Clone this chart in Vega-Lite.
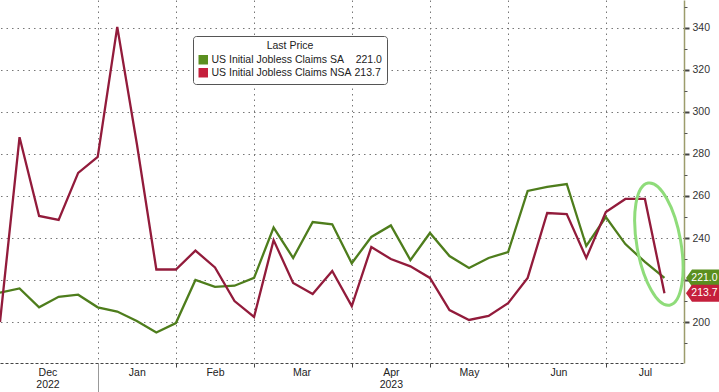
{
  "$schema": "https://vega.github.io/schema/vega-lite/v6.json",
  "width": 684,
  "height": 363,
  "autosize": {"type": "none"},
  "padding": {"left": 0, "top": 0, "right": 35, "bottom": 29},
  "background": "white",
  "config": {"view": {"stroke": null}, "font": "Liberation Sans"},
  "datasets": {
    "claims": [
      {"date": "2022-12-01", "SA": 214, "NSA": 200},
      {"date": "2022-12-08", "SA": 216, "NSA": 288},
      {"date": "2022-12-15", "SA": 207, "NSA": 250.5},
      {"date": "2022-12-22", "SA": 212, "NSA": 248.6},
      {"date": "2022-12-29", "SA": 213, "NSA": 271},
      {"date": "2023-01-05", "SA": 207, "NSA": 278.6},
      {"date": "2023-01-12", "SA": 205, "NSA": 340.5},
      {"date": "2023-01-19", "SA": 200.5, "NSA": 285},
      {"date": "2023-01-26", "SA": 195, "NSA": 225},
      {"date": "2023-02-02", "SA": 199.5, "NSA": 225},
      {"date": "2023-02-09", "SA": 220, "NSA": 234},
      {"date": "2023-02-16", "SA": 216.7, "NSA": 226},
      {"date": "2023-02-23", "SA": 217.3, "NSA": 210},
      {"date": "2023-03-02", "SA": 221, "NSA": 202.4},
      {"date": "2023-03-09", "SA": 245, "NSA": 239},
      {"date": "2023-03-16", "SA": 230.5, "NSA": 218.6},
      {"date": "2023-03-23", "SA": 247.6, "NSA": 213.3},
      {"date": "2023-03-30", "SA": 246.5, "NSA": 224.3},
      {"date": "2023-04-06", "SA": 228, "NSA": 207.6},
      {"date": "2023-04-13", "SA": 240.5, "NSA": 235.7},
      {"date": "2023-04-20", "SA": 246, "NSA": 230},
      {"date": "2023-04-27", "SA": 229.5, "NSA": 226.5},
      {"date": "2023-05-04", "SA": 242.4, "NSA": 221},
      {"date": "2023-05-11", "SA": 231.4, "NSA": 205.7},
      {"date": "2023-05-18", "SA": 225.7, "NSA": 201},
      {"date": "2023-05-25", "SA": 230.5, "NSA": 202.9},
      {"date": "2023-06-01", "SA": 233.3, "NSA": 209},
      {"date": "2023-06-08", "SA": 262.4, "NSA": 221},
      {"date": "2023-06-15", "SA": 264.3, "NSA": 251.9},
      {"date": "2023-06-22", "SA": 265.7, "NSA": 251.4},
      {"date": "2023-06-29", "SA": 236.2, "NSA": 230.5},
      {"date": "2023-07-06", "SA": 250, "NSA": 252.4},
      {"date": "2023-07-13", "SA": 237.1, "NSA": 258.6},
      {"date": "2023-07-20", "SA": 228.6, "NSA": 258.6},
      {"date": "2023-07-27", "SA": 221.0, "NSA": 213.7}
    ],
    "note": [{"date": "2023-07-25", "value": 237.1}]
  },
  "layer": [
    {
      "data": {"name": "claims"},
      "transform": [{"fold": ["SA", "NSA"], "as": ["series", "value"]}],
      "mark": {"type": "line", "strokeWidth": 2.3},
      "encoding": {
        "x": {
          "field": "date", "type": "temporal",
          "scale": {"type": "utc", "domain": [{"year": 2022, "month": 12, "date": 1, "utc": true}, {"year": 2023, "month": 8, "date": 3, "utc": true}]},
          "axis": {
            "orient": "bottom", "title": null, "labels": false,
            "values": [
              {"year": 2023, "month": 1, "date": 5, "utc": true},
              {"year": 2023, "month": 2, "date": 2, "utc": true},
              {"year": 2023, "month": 3, "date": 2, "utc": true},
              {"year": 2023, "month": 4, "date": 6, "utc": true},
              {"year": 2023, "month": 5, "date": 4, "utc": true},
              {"year": 2023, "month": 6, "date": 1, "utc": true},
              {"year": 2023, "month": 7, "date": 6, "utc": true}
            ],
            "grid": true, "gridColor": "#777", "gridDash": [1.5, 4], "gridWidth": 1,
            "ticks": true,
            "tickSize": {"condition": {"test": "utcmonth(datum.value) == 0", "value": 29}, "value": 4},
            "tickColor": {"condition": {"test": "utcmonth(datum.value) == 0", "value": "#999"}, "value": "#444"},
            "domain": true, "domainColor": "#444", "domainDash": [3, 2], "domainWidth": 1
          }
        },
        "y": {
          "field": "value", "type": "quantitative",
          "scale": {"domain": [180.5, 353.3], "nice": false, "zero": false},
          "axis": {
            "orient": "right", "title": null,
            "values": [200, 220, 240, 260, 280, 300, 320, 340],
            "labelExpr": "datum.value == 220 ? '' : datum.label",
            "grid": true, "gridColor": "#777", "gridDash": [1.5, 4], "gridWidth": 1,
            "domain": true, "domainColor": "#9c9c6c", "domainWidth": 1.5,
            "ticks": true, "tickColor": "#444", "tickSize": 5, "tickWidth": 2,
            "labelFontSize": 10.5, "labelColor": "#333", "labelPadding": 3
          }
        },
        "color": {
          "field": "series", "type": "nominal",
          "scale": {"domain": ["SA", "NSA"], "range": ["#4e7d1c", "#921b3b"]},
          "legend": null
        }
      }
    },
    {
      "data": {"name": "note"},
      "mark": {"type": "point", "shape": "M -1.077 -6.107 A 2.2 6.2 -10 0 1 1.077 6.107 A 2.2 6.2 -10 0 1 -1.077 -6.107 Z", "size": 400, "filled": false, "color": "#8fdc7a", "strokeWidth": 3, "opacity": 1},
      "encoding": {
        "x": {"field": "date", "type": "temporal", "scale": {"type": "utc", "domain": [{"year": 2022, "month": 12, "date": 1, "utc": true}, {"year": 2023, "month": 8, "date": 3, "utc": true}]}, "axis": null},
        "y": {"field": "value", "type": "quantitative", "scale": {"domain": [180.5, 353.3], "nice": false, "zero": false}, "axis": null}
      }
    },
    {
      "data": {"name": "claims"},
      "transform": [
        {"fold": ["SA", "NSA"], "as": ["series", "value"]},
        {"filter": {"field": "date", "equal": {"year": 2023, "month": 7, "date": 27, "utc": true}}}
      ],
      "mark": {"type": "point", "shape": "M 2.53 0 L 3.24 -1 L 6.45 -1 L 6.45 1 L 3.24 1 Z", "size": 289, "filled": true, "opacity": 1, "strokeWidth": 0},
      "encoding": {
        "x": {
          "field": "date", "type": "temporal",
          "scale": {"type": "utc", "domain": [{"year": 2022, "month": 12, "date": 1, "utc": true}, {"year": 2023, "month": 8, "date": 3, "utc": true}]},
          "axis": {
            "orient": "bottom", "title": null, "ticks": false, "domain": false, "grid": false,
            "values": [
              {"year": 2022, "month": 12, "date": 18, "utc": true},
              {"year": 2023, "month": 1, "date": 19, "utc": true},
              {"year": 2023, "month": 2, "date": 16, "utc": true},
              {"year": 2023, "month": 3, "date": 19, "utc": true},
              {"year": 2023, "month": 4, "date": 20, "utc": true},
              {"year": 2023, "month": 5, "date": 18, "utc": true},
              {"year": 2023, "month": 6, "date": 19, "utc": true},
              {"year": 2023, "month": 7, "date": 20, "utc": true}
            ],
            "labelExpr": "utcmonth(datum.value) == 11 ? ['Dec', '2022'] : utcmonth(datum.value) == 3 ? ['Apr', '2023'] : utcFormat(datum.value, '%b')",
            "labelFontSize": 10.5, "labelColor": "#222", "labelPadding": 4, "labelLineHeight": 12,
            "labelFlush": false, "labelOverlap": false, "labelAlign": "center"
          }
        },
        "y": {
          "field": "value", "type": "quantitative",
          "scale": {"domain": [180.5, 353.3], "nice": false, "zero": false},
          "axis": {
            "orient": "right", "title": null, "labels": false, "grid": false, "domain": false,
            "values": [190, 210, 230, 250, 270, 290, 310, 330, 350],
            "ticks": true, "tickSize": 3, "tickColor": "#555"
          }
        },
        "color": {
          "field": "series", "type": "nominal",
          "scale": {"domain": ["SA", "NSA"], "range": ["#5b8f1f", "#c51f3c"]},
          "legend": {
            "orient": "none", "legendX": 193, "legendY": 36,
            "title": "Last Price", "titleAnchor": "middle", "titleFontSize": 10.5, "titleFontWeight": "normal", "titleColor": "#222", "titlePadding": 3,
            "labelFontSize": 10.5, "labelColor": "#222", "labelOffset": 3, "labelLimit": 0,
            "labelExpr": "datum.label == 'SA' ? 'US Initial Jobless Claims SA\u00a0\u00a0\u00a0\u00a0221.0' : 'US Initial Jobless Claims NSA\u00a0213.7'",
            "symbolType": "square", "symbolSize": 90, "symbolStrokeWidth": 0,
            "strokeColor": "#555", "fillColor": "white", "padding": 5, "cornerRadius": 3, "rowPadding": 2
          }
        }
      }
    },
    {
      "data": {"name": "claims"},
      "transform": [
        {"fold": ["SA", "NSA"], "as": ["series", "value"]},
        {"filter": {"field": "date", "equal": {"year": 2023, "month": 7, "date": 27, "utc": true}}}
      ],
      "mark": {"type": "text", "dx": 40, "align": "center", "baseline": "middle", "color": "white", "fontSize": 10.5},
      "encoding": {
        "x": {"field": "date", "type": "temporal", "scale": {"type": "utc", "domain": [{"year": 2022, "month": 12, "date": 1, "utc": true}, {"year": 2023, "month": 8, "date": 3, "utc": true}]}, "axis": null},
        "y": {"field": "value", "type": "quantitative", "scale": {"domain": [180.5, 353.3], "nice": false, "zero": false}, "axis": null},
        "text": {"field": "value", "type": "quantitative", "format": ".1f"}
      }
    }
  ],
  "resolve": {"axis": {"x": "independent", "y": "independent"}, "scale": {"color": "independent"}}
}
